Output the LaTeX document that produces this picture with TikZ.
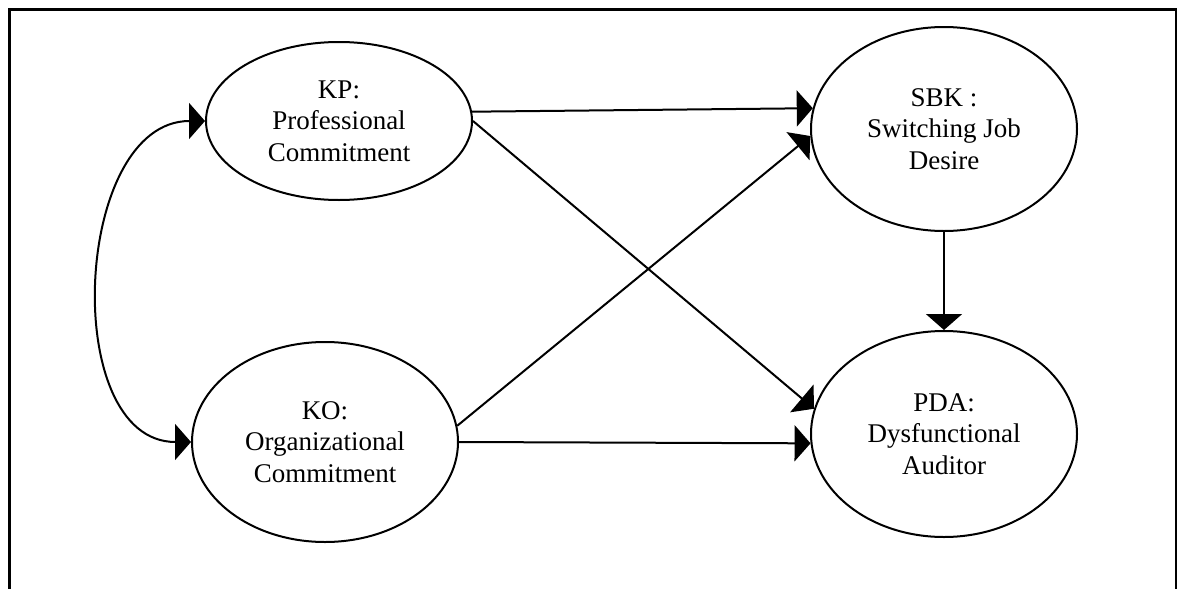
\documentclass[tikz,border=0pt]{standalone}
\usepackage{fontspec}
\setmainfont{Liberation Serif}
\usetikzlibrary{shapes.geometric,arrows.meta}
\begin{document}
\begin{tikzpicture}[x=1pt,y=-1pt,
  var/.style={ellipse,draw,line width=2pt,inner sep=0pt,align=center,
    font=\fontsize{27}{31.5}\selectfont},
  link/.style={line width=2pt,-{Triangle[length=16pt,width=36pt]}},
  bilink/.style={line width=2pt,{Triangle[length=16pt,width=36pt]}-{Triangle[length=16pt,width=36pt]}},
  frame/.style={line width=2.6pt}]
\useasboundingbox (0,0) rectangle (1178,589);
\draw[frame] (9.5,589) -- (9.5,9.5) -- (1176,9.5) -- (1176,589);
\node[var,minimum width=266pt,minimum height=158pt] (KP) at (339,121) {KP:\\Professional\\Commitment};
\node[var,minimum width=266pt,minimum height=200pt] (KO) at (325,442) {KO:\\Organizational\\Commitment};
\node[var,minimum width=266pt,minimum height=204pt] (SBK) at (944,129) {SBK :\\Switching Job\\Desire};
\node[var,minimum width=266pt,minimum height=206pt] (PDA) at (944,434) {PDA:\\Dysfunctional\\Auditor};
\draw[link] (KP.4.8) -- (SBK.171.7);
\draw[link] (KO.7.3) -- (SBK.183.5);
\draw[link] (KP.-0.4) -- (PDA.169.5);
\draw[link] (KO.0.9) -- (PDA.184.8);
\draw[link] (SBK.south) -- (PDA.north);
\draw[bilink] (KP.west) .. controls +(-132,0) and +(-132,0) .. (KO.west);
\end{tikzpicture}
\end{document}
